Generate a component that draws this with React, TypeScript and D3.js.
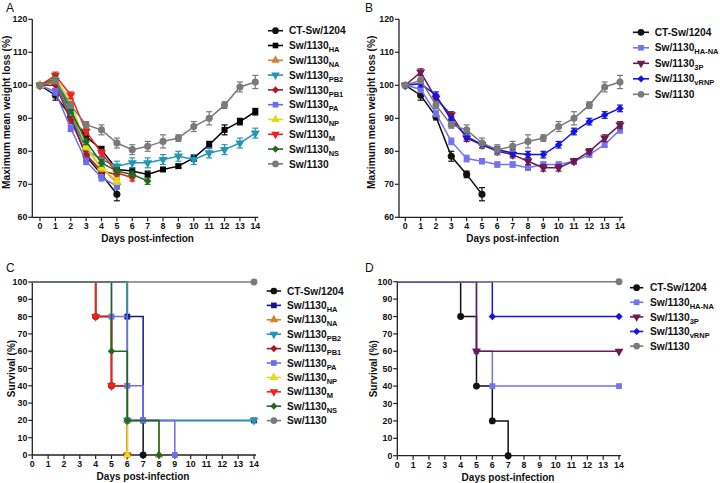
import React from 'react';
import * as d3 from 'd3';

const FONT = "'Liberation Sans', Arial, Helvetica, sans-serif";

// ---------- categories / ticks ----------
const days = [0, 1, 2, 3, 4, 5, 6, 7, 8, 9, 10, 11, 12, 13, 14];
const weightTicks = [60, 70, 80, 90, 100, 110, 120];
const survivalTicks = [0, 10, 20, 30, 40, 50, 60, 70, 80, 90, 100];

// ---------- Panel A: weight (mean, error) ----------
const ctMean = [100, 97, 90.5, 78.5, 73, 67];
const ctErr = [0, 1.5, 1, 1.5, 1, 2];
const haMean = [100, 101, 91, 84.5, 80.5, 74.5, 74, 73, 74.5, 75.5, 78, 82, 86.5, 89, 92];
const haErr = [0, 1, 1, 1, 1, 1, 1, 1, 0.5, 0.5, 1, 1, 1.5, 1, 1];
const naMean = [100, 101, 92, 81, 75, 70.5];
const naErr = [0, 1, 1, 1, 1, 1];
const pb2Mean = [100, 101.5, 91, 80.5, 77.5, 75.5, 76.5, 76.5, 77.5, 78.5, 77.5, 79.5, 80.5, 82.5, 85.5];
const pb2Err = [0, 1, 1, 1, 1, 1.5, 1.5, 1.5, 1.5, 1.5, 1.5, 1.5, 1.5, 1.5, 1.5];
const pb1Mean = [100, 100, 89.5, 79, 74, 73];
const pb1Err = [0, 1, 1, 1, 1, 1];
const paMean = [100, 98, 87, 77, 72, 69.5];
const paErr = [0, 1, 1, 1, 1, 1];
const npMean = [100, 102.5, 95, 81.5, 75, 71];
const npErr = [0, 1, 1, 1, 1, 1];
const mMean = [100, 103, 97, 86, 79.5, 73.5, 72];
const mErr = [0, 1, 1, 1, 1, 1, 1];
const nsMean = [100, 102, 92.5, 83, 76.5, 74, 73, 71];
const nsErr = [0, 1, 1, 1, 1, 1, 1, 1];
const swMean = [100, 101.5, 94, 88, 86.5, 82.5, 80.5, 81.5, 83, 84, 87.5, 90, 94, 99.5, 101];
const swErr = [0, 1, 1, 1, 1.5, 1.5, 1.5, 1.5, 2, 1, 1.5, 2, 1, 1.5, 2];

// ---------- Panel B: weight ----------
const haNaMean = [100, 98.8, 91.5, 83, 77.8, 77, 76, 76, 75, 76, 76, 77, 79, 82, 86.5];
const haNaErr = [0, 1, 1, 1, 1, 0.8, 0.8, 0.8, 0.8, 0.8, 0.8, 0.8, 0.8, 0.8, 1];
const p3Mean = [100, 104, 96, 91, 84, 82, 80, 79, 77, 75, 75, 77, 80, 84, 88];
const p3Err = [0, 1, 1, 1, 1, 1, 1, 1, 1, 1, 1, 0.8, 0.8, 1, 1];
const vrnpMean = [100, 100.5, 97, 89.5, 84.5, 82, 80.5, 79.5, 79, 79, 82, 86, 89, 91, 93];
const vrnpErr = [0, 1, 1, 1, 1, 1, 1, 1, 1, 1, 1, 1, 1, 1, 1];

// ---------- Panel C: survival steps (event days, percent) ----------
const cCtDays = [0, 4, 5, 6, 7];
const cCtPct = [100, 80, 40, 20, 0];
const cHaDays = [0, 6, 7, 14];
const cHaPct = [100, 80, 20, 20];
const cNaDays = [0, 6, 8];
const cNaPct = [100, 20, 0];
const cPb2Days = [0, 6, 14];
const cPb2Pct = [100, 20, 20];
const cPb1Days = [0, 4, 5, 6];
const cPb1Pct = [100, 80, 40, 0];
const cPaDays = [0, 5, 6, 7, 9];
const cPaPct = [100, 80, 40, 20, 0];
const cNpDays = [0, 6];
const cNpPct = [100, 0];
const cMDays = [0, 4, 5, 6];
const cMPct = [100, 80, 40, 0];
const cNsDays = [0, 5, 6, 8];
const cNsPct = [100, 60, 20, 0];
const cSwDays = [0, 14];
const cSwPct = [100, 100];

// ---------- Panel D: survival ----------
const dCtDays = [0, 4, 5, 6, 7];
const dCtPct = [100, 80, 40, 20, 0];
const dHaNaDays = [0, 5, 6, 14];
const dHaNaPct = [100, 60, 40, 40];
const d3pDays = [0, 5, 14];
const d3pPct = [100, 60, 60];
const dVrnpDays = [0, 6, 14];
const dVrnpPct = [100, 80, 80];
const dSwDays = [0, 14];
const dSwPct = [100, 100];

// ---------- styles ----------
const C = {
  ct: '#111111',
  haA: '#000000',
  haC: '#16168a',
  na: '#d4822e',
  pb2: '#2596b4',
  pb1: '#b01a1a',
  pa: '#6c6cf2',
  np: '#e2dc1a',
  m: '#f42020',
  ns: '#1e6a1e',
  sw: '#7a7a7a',
  haNa: '#7373f2',
  p3: '#6b1a4f',
  vrnp: '#1414e6',
};

type Shape = 'circle' | 'square' | 'triUp' | 'triDown' | 'diamond';

function Marker({ shape, x, y, color, size = 36 }: { shape: Shape; x: number; y: number; color: string; size?: number }) {
  const type = shape === 'circle' ? d3.symbolCircle : shape === 'square' || shape === 'diamond' ? d3.symbolSquare : d3.symbolTriangle;
  const rot = shape === 'diamond' ? 45 : shape === 'triDown' ? 180 : 0;
  const s = shape === 'circle' ? size * 1.1 : shape === 'diamond' ? size * 0.8 : size;
  const d = d3.symbol().type(type).size(s)() as string;
  return <path d={d} transform={`translate(${x},${y}) rotate(${rot})`} fill={color} />;
}

type LegendItem = { name: string; sub?: string; color: string; shape: Shape };

function Legend({ items, x1, x2, tx, y0, dy }: { items: LegendItem[]; x1: number; x2: number; tx: number; y0: number; dy: number }) {
  return (
    <g>
      {items.map((it, i) => {
        const y = y0 + i * dy;
        return (
          <g key={i}>
            <line x1={x1} x2={x2} y1={y} y2={y} stroke={it.color} strokeWidth={1.6} />
            <Marker shape={it.shape} x={(x1 + x2) / 2} y={y} color={it.color} size={32} />
            <text x={tx} y={y + 3.6} fontSize={10.2} fontWeight="bold" fill="#111" fontFamily={FONT}>
              {it.name}
              {it.sub ? <tspan dy={3} fontSize={7.5}>{it.sub}</tspan> : null}
            </text>
          </g>
        );
      })}
    </g>
  );
}

type WSeries = LegendItem & { mean: number[]; err: number[] };

function WeightPanel({ letter, lx, ly, axisX, x0, x14, yTop, yBot, titleX, yTitleX, series, legend }: any) {
  const x = d3.scaleLinear().domain([0, 14]).range([x0, x14]);
  const y = d3.scaleLinear().domain([60, 120]).range([yBot, yTop]);
  const line = d3.line<number>().x((_, i) => x(days[i])).y((v) => y(v));
  return (
    <g fontFamily={FONT}>
      <text x={lx} y={ly} fontSize={12} fill="#111">{letter}</text>
      {/* axes */}
      <line x1={axisX} x2={axisX} y1={yTop} y2={yBot} stroke="#222" strokeWidth={1.3} />
      <line x1={axisX} x2={x14 + 3} y1={yBot} y2={yBot} stroke="#222" strokeWidth={1.3} />
      {weightTicks.map((t) => (
        <g key={t}>
          <line x1={axisX - 4} x2={axisX} y1={y(t)} y2={y(t)} stroke="#222" strokeWidth={1.2} />
          <text x={axisX - 5} y={y(t) + 3} fontSize={8.8} fontWeight="bold" textAnchor="end" fill="#111">{t}</text>
        </g>
      ))}
      {days.map((d) => (
        <g key={d}>
          <line x1={x(d)} x2={x(d)} y1={yBot} y2={yBot + 4} stroke="#222" strokeWidth={1.2} />
          <text x={x(d)} y={yBot + 12} fontSize={8.8} fontWeight="bold" textAnchor="middle" fill="#111">{d}</text>
        </g>
      ))}
      <text x={titleX} y={yBot + 25} fontSize={10} fontWeight="bold" textAnchor="middle" fill="#111">Days post-infection</text>
      <text transform={`translate(${yTitleX},${(yTop + yBot) / 2 - 6}) rotate(-90)`} fontSize={10.2} fontWeight="bold" textAnchor="middle" fill="#111">Maximum mean weight loss (%)</text>
      {/* series */}
      {series.map((s: WSeries, k: number) => (
        <g key={k}>
          <path d={line(s.mean) as string} fill="none" stroke={s.color} strokeWidth={1.5} />
          {s.mean.map((v, i) => s.err[i] > 0 ? (
            <g key={i} stroke={s.color} strokeWidth={1.2}>
              <line x1={x(days[i])} x2={x(days[i])} y1={y(v - s.err[i])} y2={y(v + s.err[i])} />
              <line x1={x(days[i]) - 3} x2={x(days[i]) + 3} y1={y(v - s.err[i])} y2={y(v - s.err[i])} />
              <line x1={x(days[i]) - 3} x2={x(days[i]) + 3} y1={y(v + s.err[i])} y2={y(v + s.err[i])} />
            </g>
          ) : null)}
          {s.mean.map((v, i) => (
            <Marker key={'m' + i} shape={s.shape} x={x(days[i])} y={y(v)} color={s.color} />
          ))}
        </g>
      ))}
      <Legend {...legend} />
    </g>
  );
}

type SSeries = LegendItem & { days: number[]; pct: number[] };

function SurvivalPanel({ letter, lx, ly, x0, x14, y100, y0, titleX, yTitleX, series, legend }: any) {
  const x = d3.scaleLinear().domain([0, 14]).range([x0, x14]);
  const y = d3.scaleLinear().domain([0, 100]).range([y0, y100]);
  const step = d3.line<[number, number]>().x((p) => x(p[0])).y((p) => y(p[1])).curve(d3.curveStepAfter);
  return (
    <g fontFamily={FONT}>
      <text x={lx} y={ly} fontSize={12} fill="#111">{letter}</text>
      <line x1={x0} x2={x0} y1={y100} y2={y0} stroke="#222" strokeWidth={1.3} />
      <line x1={x0} x2={x14 + 2} y1={y0} y2={y0} stroke="#222" strokeWidth={1.3} />
      {survivalTicks.map((t) => (
        <g key={t}>
          <line x1={x0 - 4} x2={x0} y1={y(t)} y2={y(t)} stroke="#222" strokeWidth={1.2} />
          <text x={x0 - 5} y={y(t) + 3} fontSize={8.8} fontWeight="bold" textAnchor="end" fill="#111">{t}</text>
        </g>
      ))}
      {days.map((d) => (
        <g key={d}>
          <line x1={x(d)} x2={x(d)} y1={y0} y2={y0 + 4} stroke="#222" strokeWidth={1.2} />
          <text x={x(d)} y={y0 + 12} fontSize={8.8} fontWeight="bold" textAnchor="middle" fill="#111">{d}</text>
        </g>
      ))}
      <text x={titleX} y={y0 + 25} fontSize={10} fontWeight="bold" textAnchor="middle" fill="#111">Days post-infection</text>
      <text transform={`translate(${yTitleX},${(y0 + y100) / 2}) rotate(-90)`} fontSize={10} fontWeight="bold" textAnchor="middle" fill="#111">Survival (%)</text>
      {series.map((s: SSeries, k: number) => {
        const pts = s.days.map((d, i) => [d, s.pct[i]] as [number, number]);
        return (
          <g key={k}>
            <path d={step(pts) as string} fill="none" stroke={s.color} strokeWidth={1.5} />
            {pts.slice(1).map((p, i) => (
              <Marker key={i} shape={s.shape} x={x(p[0])} y={y(p[1])} color={s.color} size={34} />
            ))}
          </g>
        );
      })}
      <Legend {...legend} />
    </g>
  );
}

export default function App() {
  const aSeries: WSeries[] = [
    { name: 'CT-Sw/1204', color: C.ct, shape: 'circle', mean: ctMean, err: ctErr },
    { name: 'Sw/1130', sub: 'HA', color: C.haA, shape: 'square', mean: haMean, err: haErr },
    { name: 'Sw/1130', sub: 'NA', color: C.na, shape: 'triUp', mean: naMean, err: naErr },
    { name: 'Sw/1130', sub: 'PB2', color: C.pb2, shape: 'triDown', mean: pb2Mean, err: pb2Err },
    { name: 'Sw/1130', sub: 'PB1', color: C.pb1, shape: 'diamond', mean: pb1Mean, err: pb1Err },
    { name: 'Sw/1130', sub: 'PA', color: C.pa, shape: 'square', mean: paMean, err: paErr },
    { name: 'Sw/1130', sub: 'NP', color: C.np, shape: 'triUp', mean: npMean, err: npErr },
    { name: 'Sw/1130', sub: 'M', color: C.m, shape: 'triDown', mean: mMean, err: mErr },
    { name: 'Sw/1130', sub: 'NS', color: C.ns, shape: 'diamond', mean: nsMean, err: nsErr },
    { name: 'Sw/1130', color: C.sw, shape: 'circle', mean: swMean, err: swErr },
  ];
  const bSeries: WSeries[] = [
    { name: 'CT-Sw/1204', color: C.ct, shape: 'circle', mean: ctMean, err: ctErr },
    { name: 'Sw/1130', sub: 'HA-NA', color: C.haNa, shape: 'square', mean: haNaMean, err: haNaErr },
    { name: 'Sw/1130', sub: '3P', color: C.p3, shape: 'triDown', mean: p3Mean, err: p3Err },
    { name: 'Sw/1130', sub: 'vRNP', color: C.vrnp, shape: 'diamond', mean: vrnpMean, err: vrnpErr },
    { name: 'Sw/1130', color: C.sw, shape: 'circle', mean: swMean, err: swErr },
  ];
  const cItems: Record<string, SSeries> = {
    ct: { name: 'CT-Sw/1204', color: C.ct, shape: 'circle', days: cCtDays, pct: cCtPct },
    ha: { name: 'Sw/1130', sub: 'HA', color: C.haC, shape: 'square', days: cHaDays, pct: cHaPct },
    na: { name: 'Sw/1130', sub: 'NA', color: C.na, shape: 'triUp', days: cNaDays, pct: cNaPct },
    pb2: { name: 'Sw/1130', sub: 'PB2', color: C.pb2, shape: 'triDown', days: cPb2Days, pct: cPb2Pct },
    pb1: { name: 'Sw/1130', sub: 'PB1', color: C.pb1, shape: 'diamond', days: cPb1Days, pct: cPb1Pct },
    pa: { name: 'Sw/1130', sub: 'PA', color: C.pa, shape: 'square', days: cPaDays, pct: cPaPct },
    np: { name: 'Sw/1130', sub: 'NP', color: C.np, shape: 'triUp', days: cNpDays, pct: cNpPct },
    m: { name: 'Sw/1130', sub: 'M', color: C.m, shape: 'triDown', days: cMDays, pct: cMPct },
    ns: { name: 'Sw/1130', sub: 'NS', color: C.ns, shape: 'diamond', days: cNsDays, pct: cNsPct },
    sw: { name: 'Sw/1130', color: C.sw, shape: 'circle', days: cSwDays, pct: cSwPct },
  };
  const cLegendOrder = ['ct', 'ha', 'na', 'pb2', 'pb1', 'pa', 'np', 'm', 'ns', 'sw'];
  const cDrawOrder = ['ct', 'pb1', 'm', 'na', 'np', 'ha', 'pb2', 'pa', 'ns', 'sw'];
  const dSeries: SSeries[] = [
    { name: 'CT-Sw/1204', color: C.ct, shape: 'circle', days: dCtDays, pct: dCtPct },
    { name: 'Sw/1130', sub: 'HA-NA', color: C.haNa, shape: 'square', days: dHaNaDays, pct: dHaNaPct },
    { name: 'Sw/1130', sub: '3P', color: C.p3, shape: 'triDown', days: d3pDays, pct: d3pPct },
    { name: 'Sw/1130', sub: 'vRNP', color: C.vrnp, shape: 'diamond', days: dVrnpDays, pct: dVrnpPct },
    { name: 'Sw/1130', color: C.sw, shape: 'circle', days: dSwDays, pct: dSwPct },
  ];

  return (
    <svg width={720} height={483} style={{ position: 'absolute', left: 0, top: 0, background: '#fff' }}>
      <rect width={720} height={483} fill="#fff" />
      <WeightPanel
        letter="A" lx={6} ly={12} axisX={32.3} x0={40} x14={255.3} yTop={19.3} yBot={217.3} titleX={147.6} yTitleX={10}
        series={aSeries}
        legend={{ items: aSeries, x1: 268, x2: 283, tx: 289, y0: 30.7, dy: 14.8 }}
      />
      <WeightPanel
        letter="B" lx={365} ly={12} axisX={399} x0={405.3} x14={620} yTop={19.3} yBot={217.3} titleX={512.7} yTitleX={375}
        series={bSeries}
        legend={{ items: bSeries, x1: 633, x2: 649, tx: 654.7, y0: 32.3, dy: 15.5 }}
      />
      <SurvivalPanel
        letter="C" lx={6} ly={272} x0={32.3} x14={254} y100={282} y0={455} titleX={143} yTitleX={14.5}
        series={cDrawOrder.map((k) => cItems[k])}
        legend={{ items: cLegendOrder.map((k) => cItems[k]), x1: 266.7, x2: 281, tx: 287, y0: 291, dy: 14.4 }}
      />
      <SurvivalPanel
        letter="D" lx={365} ly={272} x0={397.3} x14={619} y100={281.7} y0={455.7} titleX={508} yTitleX={377}
        series={dSeries}
        legend={{ items: dSeries, x1: 630, x2: 643.3, tx: 650, y0: 287.7, dy: 14.6 }}
      />
    </svg>
  );
}
